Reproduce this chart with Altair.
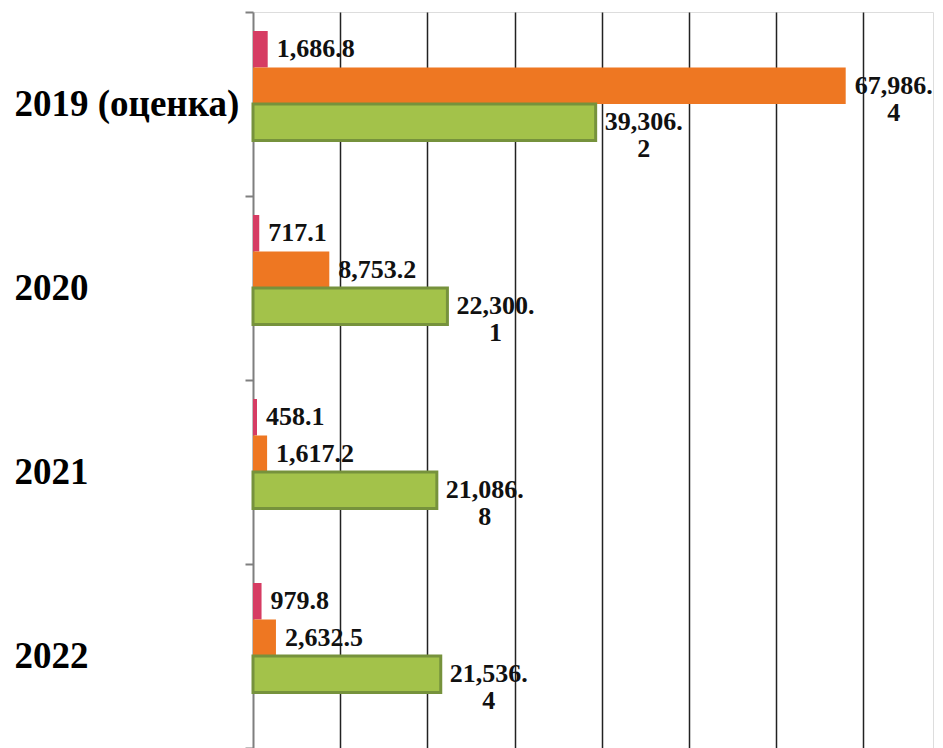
import altair as alt
import pandas as pd

years = ["2019 (оценка)", "2020", "2021", "2022"]
series = ["Серия 1", "Серия 2", "Серия 3"]
pink_vals = [1686.8, 717.1, 458.1, 979.8]
orange_vals = [67986.4, 8753.2, 1617.2, 2632.5]
green_vals = [39306.2, 22300.1, 21086.8, 21536.4]
colors = ["#D63C63", "#EE7722", "#A3C24A"]
green_border = "#76923C"
grid_values = [10000, 20000, 30000, 40000, 50000, 60000, 70000]

rows = []
for s, vals in zip(series, [pink_vals, orange_vals, green_vals]):
    for y, v in zip(years, vals):
        txt = f"{v:,.1f}"
        wrapped = v >= 10000
        if wrapped:
            a, b = txt.split(".")
            txt = a + ".\n" + b
        rows.append({"year": y, "series": s, "value": v, "label": txt, "wrapped": wrapped})
df = pd.DataFrame(rows)

y_enc = alt.Y("year:N", sort=years,
              scale=alt.Scale(domain=years, paddingInner=0, paddingOuter=0),
              axis=alt.Axis(title=None, labelFont="Liberation Serif", labelFontSize=37,
                            labelFontWeight="bold", labelColor="#000000",
                            labelAlign="left", labelPadding=231,
                            tickSize=8, tickColor="#7f7f7f", tickWidth=2, tickBand="extent",
                            domainColor="#7f7f7f", domainWidth=2, labelLimit=400))
yoff_enc = alt.YOffset("series:N",
                       scale=alt.Scale(domain=series + ["_"], paddingInner=0, paddingOuter=0.52))
x_enc = alt.X("value:Q", scale=alt.Scale(domain=[0, 78000], nice=False),
              axis=alt.Axis(title=None, labels=False, ticks=False, domain=False, grid=True,
                            values=grid_values, gridColor="#222222", gridWidth=1.5))

base = alt.Chart(df).encode(y=y_enc, yOffset=yoff_enc)

bars = base.mark_bar().encode(
    x=x_enc,
    color=alt.Color("series:N", scale=alt.Scale(domain=series, range=colors), legend=None),
).transform_filter(alt.datum.series != series[2])

green_bars = base.mark_bar(stroke=green_border, strokeWidth=3, color=colors[2]).encode(
    x="value:Q",
).transform_filter(alt.datum.series == series[2])

txt_style = dict(font="Liberation Serif", fontSize=26, fontWeight="bold", color="#111111",
                 baseline="middle", lineBreak="\n", lineHeight=27)

labels_plain = base.mark_text(align="left", dx=9, **txt_style).encode(
    x="value:Q", text="label:N"
).transform_filter("!datum.wrapped")

labels_wrapped = base.mark_text(align="center", dx=48, **txt_style).encode(
    x="value:Q", text="label:N"
).transform_filter("datum.wrapped")

chart = alt.layer(bars, green_bars, labels_plain, labels_wrapped).properties(
    width=680, height=736,
    autosize=alt.AutoSizeParams(type="none"),
    padding={"left": 245, "top": 4, "right": 2, "bottom": 0},
).configure_view(stroke=None).configure(background="#ffffff")

chart.save("out.html", embed_options={"renderer": "svg", "actions": False})
